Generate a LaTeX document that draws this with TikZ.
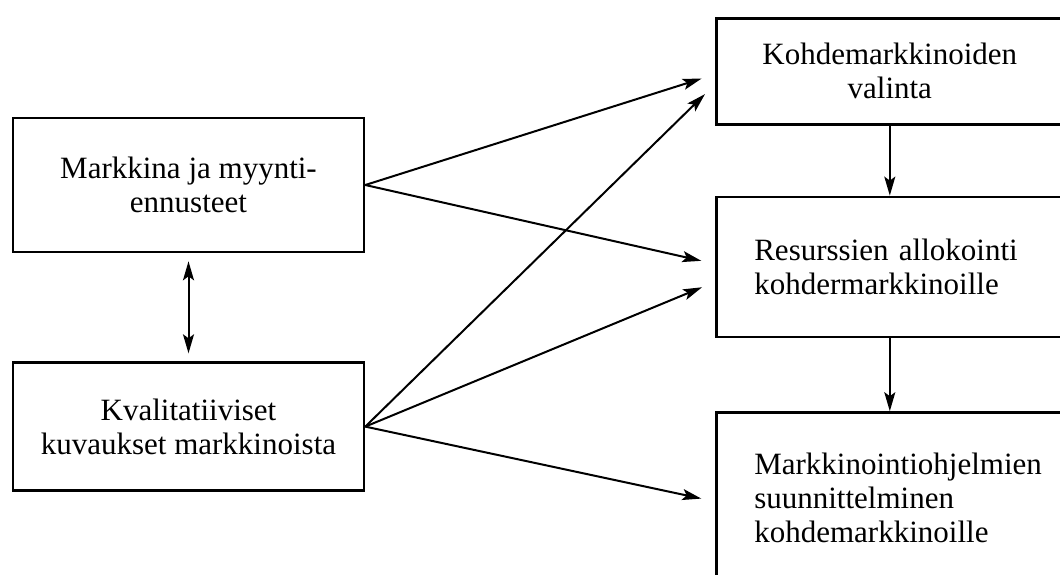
\documentclass[tikz,border=0pt]{standalone}
\usepackage{fontspec}
\setmainfont{Liberation Serif}
\usetikzlibrary{arrows.meta,positioning}

\begin{document}
\begin{tikzpicture}[x=1pt,y=-1pt,>={Stealth[length=19pt,width=11pt,inset=4pt]},line width=2pt,
  box/.style={rectangle,draw,line width=2.6pt,font=\fontsize{31}{34}\selectfont,align=center,inner sep=0pt},
  leftbox/.style={box,minimum width=351pt,minimum height=134pt},
  rightbox/.style={box,text width=271pt,inner xsep=38pt,minimum height=140pt}]

  \useasboundingbox (0,0) rectangle (1060,574);

  \node[leftbox] (market) at (188.5,185) {Markkina ja myynti-\\ennusteet};
  \node[leftbox,minimum height=128pt] (quality) [below=108pt of market] {Kvalitatiiviset\\kuvaukset markkinoista};

  \node[rightbox,minimum height=106pt,anchor=north west] (select) at (715,17) {Kohdemarkkinoiden\\valinta};
  \node[rightbox,align=left] (alloc) [below=70pt of select] {Resurssien allokointi\\kohdermarkkinoille};
  \node[rightbox,align=left,minimum height=170pt] (program) [below=73pt of alloc]
    {\mbox{Markkinointiohjelmien}\\suunnittelminen\\kohdemarkkinoille};

  \draw[<->,shorten >=8pt,shorten <=8pt] (market) -- (quality);
  \draw[->] (select) -- (alloc);
  \draw[->] (alloc) -- (program);

  \path[->,shorten >=14pt]
  (market.east) edge ([yshift=-3pt]select.west)
  edge ([yshift=3pt]alloc.west)
  (quality.east) edge ([yshift=-13pt]select.west)
  edge ([yshift=-15pt]alloc.west)
  edge ([yshift=-4pt]program.west);
\end{tikzpicture}
\end{document}
